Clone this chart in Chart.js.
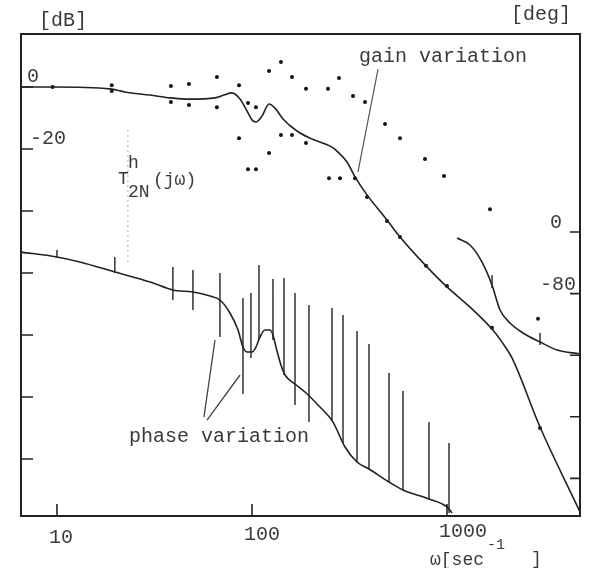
<!DOCTYPE html>
<html>
<head>
<meta charset="utf-8">
<script src="https://cdn.jsdelivr.net/npm/chart.js@4/dist/chart.umd.min.js"></script>
<style>
  body { margin: 0; background: #fff; }
  canvas { display: block; }
</style>
</head>
<body>
<canvas id="bodeChart" width="592" height="568"></canvas>
<script>
// nominal gain T2N(jw) [dB] against w [1/sec]
const gainW  = [6.5, 9.5, 18.7, 22.3, 30.0, 38.0, 48.1, 64.6, 71.8, 79.0, 86.8, 94.3, 100, 104.8, 112.5, 122.3, 131.2, 144.2, 170.1, 198.3, 257.2, 276.1, 307.1, 337.5, 388.9, 492.4, 574.1, 780.3, 1000, 1312, 1701, 1914, 2154, 2999, 4808];
const gainDb = [0, 0, -0.6, -1.6, -2.6, -3.5, -3.9, -3.5, -2.6, -1.9, -3.9, -7.7, -10.6, -11.3, -9.4, -5.5, -6.8, -10.3, -14.2, -16.5, -19.4, -21.0, -24.2, -29.0, -34.8, -42.9, -48.4, -57.7, -64.5, -71.0, -78.1, -82.3, -87.4, -109.7, -137.1];

// nominal phase [deg]
const phaseW   = [6.5, 10, 13.1, 19.8, 30.0, 39.3, 49.8, 60.9, 68.5, 77.1, 84.8, 89.9, 94.3, 100, 104.8, 109.9, 116.6, 123.7, 128.1, 132.8, 140.8, 147.7, 166.2, 187.0, 218.0, 260.3, 300.0, 345.6, 398.1, 504.2, 594.8, 808.4, 1000, 1061];
const phaseDeg = [-26.0, -32.5, -39.0, -51.9, -64.9, -75.3, -77.9, -83.1, -88.3, -105.2, -127.3, -149.4, -155.8, -155.8, -149.4, -136.4, -127.3, -127.3, -133.8, -149.4, -172.7, -185.7, -197.4, -207.8, -224.7, -246.8, -279.2, -298.7, -307.8, -324.7, -335.1, -346.8, -357.1, -364.9];

// phase after wrapping by +360 deg
const wrapW   = [1126, 1312, 1512, 1701, 1870, 2104, 2453, 2999, 3665, 4808];
const wrapDeg = [-7.8, -16.9, -39.0, -68.8, -101.3, -118.2, -131.2, -142.9, -153.2, -158.4];

// gain variation (upper / lower measured points)
const dotW  = [19.1, 19.1, 38.4, 38.4, 47.5, 47.5, 66.1, 66.1, 85.8, 85.8, 95.4, 95.4, 104.8, 104.8, 122.3, 122.3, 140.8, 140.8, 160.4, 160.4, 189.2, 189.2, 245.3, 248.3, 279.4, 282.7, 329.6, 379.7, 481.0, 574.1, 771.2, 965.2, 1661, 2929];
const dotDb = [0.6, -1.3, 0.3, -4.8, 1.0, -5.8, 3.2, -6.5, 0.6, -16.5, -5.2, -26.5, -6.5, -26.5, 5.2, -21.3, 8.1, -15.5, 3.2, -15.5, -0.6, -18.1, -0.6, -29.4, 2.9, -29.4, -2.9, -4.8, -11.9, -16.5, -23.2, -28.7, -39.4, -74.8];

// nominal points marked on the gain curve
const nomW  = [9.5, 337.5, 388.9, 492.4, 574.1, 780.3, 1000, 1701, 2999];
const nomDb = [0, -29.4, -35.5, -43.2, -48.4, -57.7, -64.2, -77.7, -110.0];

// phase variation bars [deg]
const barW      = [10, 19.8, 39.3, 49.8, 68.5, 89.9, 98.8, 108.6, 128.1, 145.9, 166.2, 196.0, 257.2, 292.9, 345.6, 398.1, 504.2, 594.8, 808.4, 1024, 1701, 2999];
const barTop    = [-23.4, -32.5, -45.5, -49.4, -53.2, -85.7, -79.2, -42.9, -61.0, -59.7, -79.2, -94.8, -98.7, -107.8, -128.6, -145.5, -183.1, -206.5, -246.8, -274.0, -55.8, -131.2];
const barBottom = [-33.8, -53.2, -88.3, -101.3, -136.4, -210.4, -163.6, -140.3, -140.3, -185.7, -224.7, -246.8, -244.2, -274.0, -298.7, -307.8, -324.7, -335.1, -346.8, -364.9, -72.7, -146.8];

// faint dotted marker line near w = 23
const markW  = [23.1, 23.1];
const markDb = [-13.9, -56.5];

// label pointers
const gainPtrW  = [442.9, 349.6];
const gainPtrDb = [5.8, -27.4];
const phasePtrW   = [64.6, 56.7, null, 86.8, 58.8];
const phasePtrDeg = [-140.3, -240.3, null, -185.7, -244.2];

// axes
const xTicks = [10, 100, 1000];
const xTickLabels = ["10", "100", "1000"];
const dbTicks = [0, -20, -40, -60, -80, -100, -120];
const dbTickLabels = ["0", "-20"];
const degTicks = [0, -80, -160, -240, -320];
const degTickLabels = ["0", "-80"];

const INK = "#222";
const TEXT = "#3a3a3a";
const MONO = "'Liberation Mono', 'DejaVu Sans Mono', monospace";

function pts(xs, ys) {
  return xs.map((x, i) => ({ x: x, y: ys[i] }));
}

function barPts() {
  const out = [];
  barW.forEach((w, i) => {
    out.push({ x: w, y: barTop[i] });
    out.push({ x: w, y: barBottom[i] });
    out.push({ x: w, y: null });
  });
  return out;
}

//frame, inward ticks and all the typed text
const paperPlugin = {
  id: "paper",
  afterDraw(chart) {
    const ctx = chart.ctx;
    const a = chart.chartArea;
    const sx = chart.scales.x;
    const sdb = chart.scales.yDb;
    const sdeg = chart.scales.yDeg;

    ctx.save();
    ctx.strokeStyle = INK;
    ctx.lineWidth = 2;
    ctx.strokeRect(a.left, a.top, a.right - a.left, a.bottom - a.top);

    ctx.lineWidth = 1.6;
    ctx.beginPath();
    dbTicks.forEach(v => {
      const y = sdb.getPixelForValue(v);
      ctx.moveTo(a.left, y);
      ctx.lineTo(a.left + 12, y);
    });
    degTicks.forEach(v => {
      const y = sdeg.getPixelForValue(v);
      ctx.moveTo(a.right, y);
      ctx.lineTo(a.right - 10, y);
    });
    xTicks.forEach(v => {
      const x = sx.getPixelForValue(v);
      ctx.moveTo(x, a.bottom);
      ctx.lineTo(x, a.bottom - 12);
    });
    ctx.stroke();

    ctx.fillStyle = TEXT;
    ctx.textAlign = "center";
    ctx.textBaseline = "middle";
    ctx.font = "20px " + MONO;

    dbTickLabels.forEach((t, i) => {
      const y = sdb.getPixelForValue(dbTicks[i]);
      ctx.fillText(t, i === 0 ? 33 : 48, y - 10);
    });
    degTickLabels.forEach((t, i) => {
      const y = sdeg.getPixelForValue(degTicks[i]);
      ctx.fillText(t, i === 0 ? 556 : 558, y - 9);
    });
    xTickLabels.forEach((t, i) => {
      const x = sx.getPixelForValue(xTicks[i]);
      ctx.fillText(t, x + 4 + i * 6, a.bottom + 22 - i * 3);
    });

    ctx.fillText("[dB]", 63, 21);
    ctx.fillText("[deg]", 541, 15);
    ctx.fillText("gain variation", 443, 57);
    ctx.fillText("phase variation", 219, 437);

    // T^h_2N(jw)
    ctx.textAlign = "left";
    ctx.font = "18px " + MONO;
    ctx.fillText("T", 118, 179);
    ctx.fillText("h", 128, 163);
    ctx.fillText("2N", 128, 192);
    ctx.fillText("(jω)", 153, 180);

    // w[sec^-1]
    ctx.font = "18px " + MONO;
    ctx.fillText("ω[sec", 430, 560);
    ctx.font = "15px " + MONO;
    ctx.fillText("-1", 487, 545);
    ctx.font = "18px " + MONO;
    ctx.fillText("]", 531, 559);
    ctx.restore();
  }
};

const ctx = document.getElementById("bodeChart").getContext("2d");

new Chart(ctx, {
  type: "scatter",
  data: {
    datasets: [
      {
        label: "marker",
        data: pts(markW, markDb),
        yAxisID: "yDb",
        showLine: true,
        borderColor: "#bbb",
        borderWidth: 1.2,
        borderDash: [2, 3],
        pointRadius: 0
      },
      {
        label: "gain",
        data: pts(gainW, gainDb),
        yAxisID: "yDb",
        showLine: true,
        borderColor: INK,
        borderWidth: 1.6,
        cubicInterpolationMode: "monotone",
        pointRadius: 0
      },
      {
        label: "gain variation",
        data: pts(dotW, dotDb),
        yAxisID: "yDb",
        backgroundColor: "#111",
        borderWidth: 0,
        pointRadius: 2
      },
      {
        label: "nominal points",
        data: pts(nomW, nomDb),
        yAxisID: "yDb",
        backgroundColor: "#111",
        borderWidth: 0,
        pointRadius: 2
      },
      {
        label: "phase",
        data: pts(phaseW, phaseDeg),
        yAxisID: "yDeg",
        showLine: true,
        borderColor: INK,
        borderWidth: 1.6,
        cubicInterpolationMode: "monotone",
        pointRadius: 0
      },
      {
        label: "phase wrapped",
        data: pts(wrapW, wrapDeg),
        yAxisID: "yDeg",
        showLine: true,
        borderColor: INK,
        borderWidth: 1.6,
        cubicInterpolationMode: "monotone",
        pointRadius: 0
      },
      {
        label: "phase variation",
        data: barPts(),
        yAxisID: "yDeg",
        showLine: true,
        spanGaps: false,
        borderColor: "#333",
        borderWidth: 1.5,
        pointRadius: 0
      },
      {
        label: "gain pointer",
        data: pts(gainPtrW, gainPtrDb),
        yAxisID: "yDb",
        showLine: true,
        borderColor: "#555",
        borderWidth: 1.2,
        pointRadius: 0
      },
      {
        label: "phase pointer",
        data: pts(phasePtrW, phasePtrDeg),
        yAxisID: "yDeg",
        showLine: true,
        spanGaps: false,
        borderColor: "#444",
        borderWidth: 1.3,
        pointRadius: 0
      }
    ]
  },
  options: {
    responsive: false,
    animation: false,
    devicePixelRatio: 1,
    layout: {
      padding: { left: 21, right: 12, top: 34, bottom: 52 }
    },
    scales: {
      x: { type: "logarithmic", min: 6.54, max: 4808, display: false },
      yDb: { type: "linear", position: "left", min: -138.4, max: 17.1, display: false },
      yDeg: { type: "linear", position: "right", min: -368.8, max: 257.1, display: false }
    },
    plugins: {
      legend: { display: false },
      tooltip: { enabled: false }
    }
  },
  plugins: [paperPlugin]
});
</script>
</body>
</html>
